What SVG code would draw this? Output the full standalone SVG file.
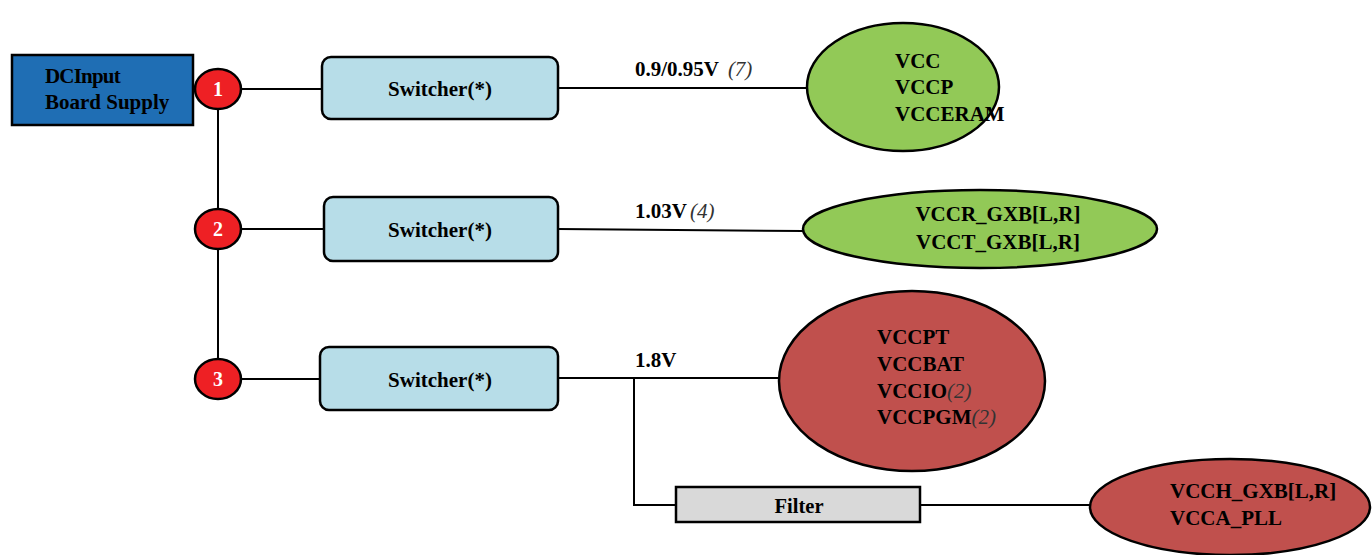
<svg xmlns="http://www.w3.org/2000/svg" width="1372" height="555" viewBox="0 0 1372 555">
<style>
text{font-family:"Liberation Serif","Times New Roman",serif;font-weight:bold;font-size:21px;fill:#000}
.it{font-style:italic;font-weight:normal;fill:#333}
.num{fill:#fff;font-size:20px;text-anchor:middle}
.c{text-anchor:middle}
.ln{stroke:#000;stroke-width:2;fill:none}
.dot{fill:#ee2024;stroke:#000;stroke-width:2.5}
.sw{fill:#b7dde8;stroke:#000;stroke-width:2.5}
.gr{fill:#92c957;stroke:#000;stroke-width:2.5}
.rd{fill:#c0504d;stroke:#000;stroke-width:2.5}
</style>
<g id="connectors">
<line class="ln" x1="218" y1="109" x2="218" y2="359"/>
<line class="ln" x1="241" y1="89" x2="322" y2="89"/>
<line class="ln" x1="241" y1="229" x2="324" y2="229"/>
<line class="ln" x1="241" y1="379" x2="320" y2="379"/>
<line class="ln" x1="558" y1="88" x2="807" y2="88"/>
<line class="ln" x1="558" y1="229" x2="803" y2="231"/>
<line class="ln" x1="558" y1="378" x2="779" y2="378"/>
<polyline class="ln" points="634,378 634,505 676,505"/>
<line class="ln" x1="920" y1="505" x2="1090" y2="505"/>
<text x="635" y="76">0.9/0.95V <tspan class="it" dx="4">(7)</tspan></text>
<text x="635" y="218">1.03V<tspan class="it" dx="3">(4)</tspan></text>
<text x="635" y="367">1.8V</text>
</g>
<g id="dcinput">
<rect x="12" y="55" width="181" height="70" fill="#1f6eb4" stroke="#000" stroke-width="2.5"/>
<text x="45" y="83" letter-spacing="-0.8">DCInput</text>
<text x="45" y="109">Board Supply</text>
</g>
<g id="n1"><ellipse class="dot" cx="218" cy="89" rx="23" ry="20"/><text class="num" x="218" y="96">1</text></g>
<g id="n2"><ellipse class="dot" cx="218" cy="229" rx="23" ry="20"/><text class="num" x="218" y="236">2</text></g>
<g id="n3"><ellipse class="dot" cx="218" cy="379" rx="23" ry="20"/><text class="num" x="218" y="386">3</text></g>
<g id="sw1"><rect class="sw" x="322" y="57" width="236" height="62" rx="9"/><text class="c" x="440" y="96">Switcher(*)</text></g>
<g id="sw2"><rect class="sw" x="324" y="197" width="234" height="64" rx="9"/><text class="c" x="440" y="237">Switcher(*)</text></g>
<g id="sw3"><rect class="sw" x="320" y="347" width="238" height="63" rx="9"/><text class="c" x="440" y="387">Switcher(*)</text></g>
<g id="e1"><ellipse class="gr" cx="903" cy="87" rx="96" ry="64"/>
<text x="895" y="68">VCC</text><text x="895" y="94">VCCP</text><text x="895" y="121">VCCERAM</text></g>
<g id="e2"><ellipse class="gr" cx="980" cy="229" rx="177" ry="39"/>
<text class="c" x="998" y="221">VCCR_GXB[L,R]</text><text class="c" x="998" y="249">VCCT_GXB[L,R]</text></g>
<g id="e3"><ellipse class="rd" cx="912" cy="381" rx="133" ry="90"/>
<text x="877" y="344">VCCPT</text><text x="877" y="371">VCCBAT</text>
<text x="877" y="398">VCCIO<tspan class="it">(2)</tspan></text><text x="877" y="424">VCCPGM<tspan class="it">(2)</tspan></text></g>
<g id="filter"><rect x="676" y="487" width="244" height="35" fill="#d9d9d9" stroke="#000" stroke-width="2.5"/>
<text class="c" x="799" y="513" textLength="49" lengthAdjust="spacingAndGlyphs">Filter</text></g>
<g id="e4"><ellipse class="rd" cx="1230" cy="507" rx="140" ry="48"/>
<text x="1170" y="498">VCCH_GXB[L,R]</text><text x="1170" y="525">VCCA_PLL</text></g>
</svg>
